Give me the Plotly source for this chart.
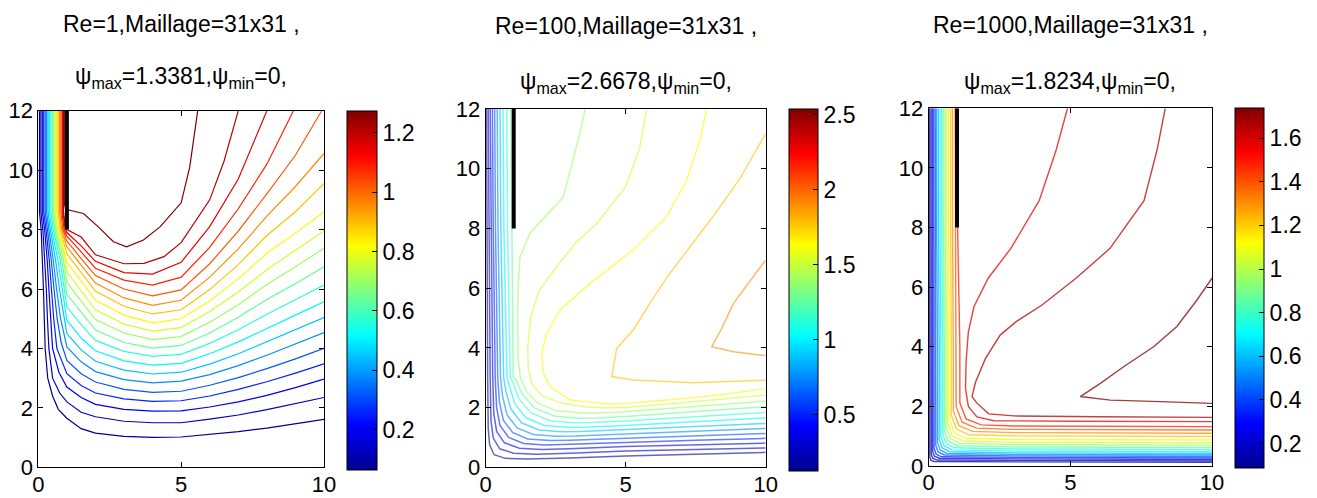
import plotly.graph_objects as go

# ---------------------------------------------------------------- data
RE = [1, 100, 1000]
MESH = "31x31"
PSI_MAX = [1.3381, 2.6678, 1.8234]
PSI_MIN = [0, 0, 0]
N_LEVELS = 20                      # contour levels k*psi_max/(N+1), k=1..N

X_TICKS = [0, 5, 10]
Y_TICKS = [0, 2, 4, 6, 8, 10, 12]
CB_TICKS = [
    [0.2, 0.4, 0.6, 0.8, 1.0, 1.2],
    [0.5, 1.0, 1.5, 2.0, 2.5],
    [0.2, 0.4, 0.6, 0.8, 1.0, 1.2, 1.4, 1.6],
]
CB_TEXT = [
    ["0.2", "0.4", "0.6", "0.8", "1", "1.2"],
    ["0.5", "1", "1.5", "2", "2.5"],
    ["0.2", "0.4", "0.6", "0.8", "1", "1.2", "1.4", "1.6"],
]

# inlet wall (thin plate) separating the jet channel
WALL_X = [1, 1]
WALL_Y = [8, 12]

# streamlines psi = k*psi_max/21 : {k: [(x, y), ...]}
RE1_LINES = {
    1: [(0.04,12),(0.04,8.6),(0.1,8),(0.15,7),(0.18,6),(0.21,5),(0.24,4),(0.33,3),(0.5,2.4),(0.7,1.95),(1,1.65),(1.5,1.3),(2,1.15),(3,1.04),(4,1.01),(5,1.02),(6,1.1),(7,1.2),(8,1.32),(9,1.46),(10,1.61)],
    2: [(0.09,12),(0.09,8.6),(0.16,8),(0.23,7),(0.28,6),(0.32,5),(0.37,4),(0.5,3),(0.75,2.5),(1,2.2),(1.5,1.85),(2,1.7),(3,1.55),(4,1.5),(5,1.5),(6,1.62),(7,1.76),(8,1.94),(9,2.14),(10,2.35)],
    3: [(0.14,12),(0.14,8.6),(0.22,8),(0.31,7),(0.37,6),(0.43,5),(0.5,4),(0.72,3.2),(1,2.7),(1.5,2.35),(2,2.12),(3,1.95),(4,1.89),(5,1.9),(6,2.03),(7,2.2),(8,2.42),(9,2.68),(10,2.97)],
    4: [(0.19,12),(0.19,8.6),(0.27,8),(0.38,7),(0.46,6),(0.54,5),(0.65,4),(1,3.15),(1.5,2.75),(2,2.5),(3,2.3),(4,2.22),(5,2.24),(6,2.4),(7,2.62),(8,2.88),(9,3.17),(10,3.48)],
    5: [(0.24,12),(0.24,8.6),(0.32,8),(0.45,7),(0.55,6),(0.66,5),(0.8,4.2),(1,3.6),(1.5,3.15),(2,2.87),(3,2.62),(4,2.52),(5,2.56),(6,2.76),(7,3.02),(8,3.32),(9,3.65),(10,4.0)],
    6: [(0.29,12),(0.29,8.6),(0.37,8),(0.52,7),(0.64,6),(0.78,5),(1,4.05),(1.5,3.55),(2,3.22),(3,2.95),(4,2.84),(5,2.9),(6,3.12),(7,3.42),(8,3.77),(9,4.14),(10,4.53)],
    7: [(0.34,12),(0.34,8.6),(0.42,8),(0.6,7),(0.74,6),(0.9,5),(1,4.5),(1.5,3.95),(2,3.57),(3,3.27),(4,3.14),(5,3.2),(6,3.47),(7,3.82),(8,4.22),(9,4.62),(10,5.04)],
    8: [(0.39,12),(0.39,8.6),(0.47,8),(0.68,7),(0.84,6),(1,4.95),(1.5,4.35),(2,3.92),(3,3.58),(4,3.44),(5,3.5),(6,3.82),(7,4.22),(8,4.68),(9,5.12),(10,5.57)],
    9: [(0.44,12),(0.44,8.6),(0.52,8),(0.76,7),(1,5.4),(1.5,4.8),(2,4.27),(3,3.9),(4,3.73),(5,3.8),(6,4.17),(7,4.63),(8,5.15),(9,5.63),(10,6.13)],
    10: [(0.49,12),(0.49,8.6),(0.57,8),(0.82,7),(1,5.82),(1.5,5.2),(2,4.62),(3,4.2),(4,4.01),(5,4.1),(6,4.52),(7,5.05),(8,5.65),(9,6.18),(10,6.75)],
    11: [(0.54,12),(0.54,8.6),(0.62,8),(0.88,7),(1,6.22),(1.5,5.6),(2,4.97),(3,4.52),(4,4.3),(5,4.4),(6,4.88),(7,5.47),(8,6.15),(9,6.75),(10,7.37)],
    12: [(0.59,12),(0.59,8.6),(0.67,8),(0.95,7),(1,6.58),(1.5,5.95),(2,5.3),(3,4.82),(4,4.58),(5,4.7),(6,5.24),(7,5.9),(8,6.65),(9,7.3),(10,7.95)],
    13: [(0.64,12),(0.64,8.6),(0.72,8),(1,6.9),(1.5,6.27),(2,5.62),(3,5.12),(4,4.86),(5,5.0),(6,5.6),(7,6.35),(8,7.2),(9,7.88),(10,8.59)],
    14: [(0.69,12),(0.69,8.6),(0.77,8),(1,7.18),(1.5,6.55),(2,5.93),(3,5.42),(4,5.16),(5,5.3),(6,5.98),(7,6.82),(8,7.8),(9,8.6),(10,9.55)],
    15: [(0.74,12),(0.74,8.6),(0.82,8),(1,7.42),(1.5,6.8),(2,6.2),(3,5.7),(4,5.45),(5,5.62),(6,6.4),(7,7.35),(8,8.45),(9,9.45),(10,10.56)],
    16: [(0.79,12),(0.79,8.6),(0.86,8),(1,7.62),(1.5,7.02),(2,6.45),(3,6.0),(4,5.77),(5,5.97),(6,6.85),(7,7.95),(8,9.2),(9,10.5),(9.92,12)],
    17: [(0.83,12),(0.83,8.6),(0.9,8),(1,7.78),(1.5,7.25),(2,6.7),(3,6.3),(4,6.13),(5,6.4),(6,7.4),(7,8.7),(8,10.2),(8.93,12)],
    18: [(0.86,12),(0.86,8.6),(0.93,8.05),(1,7.9),(1.5,7.45),(2,6.93),(3,6.55),(4,6.5),(5,6.9),(6,8.1),(7,9.7),(8,12)],
    19: [(0.88,12),(0.88,8.6),(0.95,8.1),(1,8.0),(1.5,7.75),(2,7.15),(3,6.85),(3.7,6.86),(4.4,7.09),(5,7.56),(6,9.0),(6.5,10.3),(7,12)],
    20: [(0.91,12),(0.91,8.9),(0.96,8.68),(1.58,8.54),(2.1,8.09),(2.63,7.59),(3.09,7.42),(3.68,7.65),(4.26,8.09),(5,8.9),(5.3,10.1),(5.58,12)],
}

RE100_LINES = {
    1: [(0.03,12),(0.04,8),(0.07,3),(0.09,1.3),(0.14,0.75),(0.3,0.42),(0.7,0.3),(1.5,0.28),(3,0.31),(5,0.38),(7.5,0.44),(10,0.5)],
    2: [(0.09,12),(0.11,8),(0.16,3),(0.19,1.55),(0.27,0.98),(0.5,0.62),(1.0,0.47),(1.8,0.44),(3,0.47),(5,0.55),(7.5,0.6),(10,0.65)],
    3: [(0.16,12),(0.19,8),(0.25,3),(0.29,1.8),(0.39,1.2),(0.67,0.82),(1.2,0.64),(2,0.6),(3,0.62),(5,0.7),(7.5,0.76),(10,0.81)],
    4: [(0.24,12),(0.27,8),(0.34,3),(0.39,2.0),(0.51,1.4),(0.82,1.0),(1.35,0.8),(2.1,0.75),(3,0.77),(5,0.84),(7.5,0.91),(10,0.97)],
    5: [(0.32,12),(0.35,8),(0.43,3),(0.49,2.2),(0.63,1.58),(0.97,1.16),(1.5,0.95),(2.3,0.9),(3,0.91),(5,0.98),(7.5,1.06),(10,1.13)],
    6: [(0.41,12),(0.44,8),(0.53,3),(0.6,2.38),(0.76,1.76),(1.12,1.32),(1.7,1.1),(2.5,1.04),(3.2,1.05),(5,1.12),(7.5,1.21),(10,1.3)],
    7: [(0.51,12),(0.54,8),(0.64,3),(0.72,2.55),(0.9,1.95),(1.28,1.49),(1.9,1.25),(2.7,1.19),(3.4,1.2),(5,1.26),(7.5,1.37),(10,1.47)],
    8: [(0.62,12),(0.65,8),(0.76,3),(0.85,2.7),(1.04,2.12),(1.45,1.65),(2.1,1.4),(2.9,1.34),(3.6,1.35),(5,1.4),(7.5,1.53),(10,1.65)],
    9: [(0.75,12),(0.78,8),(0.88,3),(0.97,2.85),(1.18,2.3),(1.62,1.82),(2.3,1.56),(3.1,1.49),(3.8,1.5),(5,1.55),(7.5,1.69),(10,1.84)],
    10: [(0.9,12),(0.93,8),(0.98,3),(1.08,2.95),(1.3,2.45),(1.75,1.98),(2.45,1.72),(3.3,1.64),(4,1.65),(5,1.7),(7.5,1.86),(10,2.03)],
    11: [(3.55,12),(3.37,11.2),(2.77,9.05),(1.58,7.84),(1.23,7.06),(1.16,6.16),(1.14,5.0),(1.16,3.6),(1.24,3.0),(1.45,2.55),(1.85,2.15),(2.5,1.9),(3.4,1.82),(4,1.82),(5,1.86),(7.5,2.03),(10,2.22)],
    12: [(5.75,12),(5.5,10.7),(5.0,9.4),(4.0,8.2),(3.2,7.5),(2.6,6.8),(1.9,5.9),(1.6,5.0),(1.5,4.0),(1.52,3.3),(1.65,2.8),(2.0,2.4),(2.7,2.15),(3.6,2.02),(4.3,1.99),(5,2.0),(7.5,2.2),(10,2.42)],
    13: [(7.89,12),(7.65,10.96),(7.18,9.62),(6.46,8.39),(5.27,7.28),(3.73,6.16),(2.65,5.27),(2.18,4.49),(2.0,3.82),(2.06,3.15),(2.3,2.7),(3.01,2.25),(4.32,2.12),(5,2.14),(7,2.3),(8.5,2.45),(10,2.64)],
    14: [(10,11.18),(9.1,9.7),(8.2,8.5),(7.3,7.4),(6.5,6.4),(5.8,5.4),(5.27,4.6),(4.68,3.98),(4.62,3.7),(4.5,3.04),(5.27,2.92),(7.42,2.83),(10,2.92)],
    15: [(10,6.94),(9.4,6.2),(8.85,5.49),(8.4,4.6),(8.07,4.04),(8.85,3.87),(10,3.74)],
}

RE1000_LINES = {
    1: [(0.03,12),(0.03,8),(0.04,4),(0.04,0.3),(0.08,0.19),(0.2,0.15),(3,0.14),(6,0.13),(10,0.12)],
    2: [(0.08,12),(0.08,8),(0.09,4),(0.09,0.4),(0.14,0.26),(0.3,0.2),(3,0.19),(6,0.18),(10,0.17)],
    3: [(0.13,12),(0.13,8),(0.14,4),(0.14,0.5),(0.2,0.33),(0.38,0.26),(3,0.24),(6,0.23),(10,0.22)],
    4: [(0.18,12),(0.18,8),(0.19,4),(0.19,0.6),(0.26,0.4),(0.45,0.31),(3,0.29),(6,0.28),(10,0.27)],
    5: [(0.23,12),(0.23,8),(0.25,4),(0.25,0.7),(0.33,0.47),(0.55,0.37),(3,0.34),(6,0.33),(10,0.32)],
    6: [(0.28,12),(0.28,8),(0.31,4),(0.31,0.8),(0.4,0.54),(0.64,0.42),(3,0.39),(6,0.38),(10,0.37)],
    7: [(0.34,12),(0.34,8),(0.37,4),(0.37,0.9),(0.47,0.61),(0.73,0.48),(3,0.44),(6,0.43),(10,0.42)],
    8: [(0.4,12),(0.4,8),(0.43,4),(0.43,1.0),(0.54,0.68),(0.82,0.54),(3,0.5),(6,0.49),(10,0.48)],
    9: [(0.46,12),(0.46,8),(0.49,4),(0.49,1.1),(0.61,0.76),(0.91,0.61),(3,0.57),(6,0.56),(10,0.55)],
    10: [(0.52,12),(0.52,8),(0.55,4),(0.55,1.2),(0.68,0.84),(1.0,0.68),(3,0.64),(6,0.63),(10,0.62)],
    11: [(0.58,12),(0.58,8),(0.61,4),(0.61,1.32),(0.75,0.93),(1.1,0.76),(3,0.72),(6,0.71),(10,0.7)],
    12: [(0.64,12),(0.64,8),(0.67,4),(0.67,1.44),(0.82,1.02),(1.2,0.84),(3,0.8),(6,0.79),(10,0.78)],
    13: [(0.7,12),(0.7,8),(0.73,4),(0.73,1.56),(0.9,1.12),(1.3,0.93),(3,0.89),(6,0.88),(10,0.87)],
    14: [(0.77,12),(0.77,8),(0.8,4),(0.8,1.7),(0.98,1.24),(1.42,1.05),(3,1.01),(6,1.0),(10,0.99)],
    15: [(0.84,12),(0.84,8),(0.87,4),(0.87,1.84),(1.07,1.35),(1.55,1.16),(3,1.12),(6,1.11),(10,1.1)],
    16: [(0.93,12),(0.95,8),(0.97,4),(0.97,1.98),(1.18,1.47),(1.68,1.27),(3,1.23),(6,1.22),(10,1.21)],
    17: [(1.0,12),(1.02,8),(1.1,4),(1.1,2.12),(1.32,1.58),(1.85,1.38),(3,1.34),(6,1.33),(10,1.32)],
    18: [(4.9,12),(4.5,10.6),(3.9,8.9),(2.9,7.3),(2.1,6.3),(1.6,5.35),(1.4,4.5),(1.32,3.5),(1.3,2.6),(1.4,2.0),(1.7,1.65),(2.3,1.52),(5,1.5),(10,1.49)],
    19: [(8.35,12),(8.06,10.6),(7.6,8.9),(6.4,7.3),(5.2,6.3),(4.0,5.4),(3.1,4.85),(2.53,4.4),(2.0,3.6),(1.65,2.8),(1.53,2.33),(1.71,2.1),(2.12,1.75),(3,1.68),(6,1.65),(10,1.63)],
    20: [(10,6.3),(9.47,5.57),(8.76,4.68),(7.94,4.0),(6.88,3.33),(6.06,2.77),(5.35,2.33),(6.41,2.21),(8.18,2.16),(10,2.1)],
}

ALL_LINES = [RE1_LINES, RE100_LINES, RE1000_LINES]

# ---------------------------------------------------------------- layout
W, H = 1317, 498
FONT = "Arial, Liberation Sans, Helvetica, sans-serif"

# pixel boxes: axes (left, right, top, bottom) and colour bar
AX_BOX = [(38.3, 324.0, 110.7, 467.3), (485.7, 765.7, 109.0, 467.3), (928.7, 1212.0, 108.3, 466.0)]
CB_BOX = [(347.0, 377.0, 110.7, 470.0), (789.3, 818.3, 109.0, 470.7), (1235.3, 1264.3, 108.3, 468.3)]
TITLE_Y = [(24, 77), (26, 82), (25, 83)]
LINE_STYLE = [dict(width=1.2, opacity=1.0), dict(width=1.5, opacity=0.6), dict(width=1.4, opacity=0.75)]

# MATLAB-style jet colormap
JET = [(0.0, (0, 0, 143)), (0.125, (0, 0, 255)), (0.375, (0, 255, 255)),
       (0.625, (255, 255, 0)), (0.875, (255, 0, 0)), (1.0, (128, 0, 0))]
JET_SCALE = [[t, "rgb(%d,%d,%d)" % c] for t, c in JET]


def jet(t):
    t = min(max(t, 0.0), 1.0)
    for (t0, c0), (t1, c1) in zip(JET[:-1], JET[1:]):
        if t <= t1:
            f = (t - t0) / (t1 - t0)
            return "rgb(%d,%d,%d)" % tuple(round(a + f * (b - a)) for a, b in zip(c0, c1))
    return "rgb(%d,%d,%d)" % JET[-1][1]


fig = go.Figure()
layout = dict(
    width=W, height=H, margin=dict(l=0, r=0, t=0, b=0, autoexpand=False),
    paper_bgcolor="white", plot_bgcolor="white", showlegend=False,
    font=dict(family=FONT, size=22, color="black"),
)
annotations = []

for i in range(3):
    sfx = "" if i == 0 else str(i + 1)
    xa, ya = "x" + sfx, "y" + sfx
    l, r, t, b = AX_BOX[i]
    step = PSI_MAX[i] / (N_LEVELS + 1)
    lo, hi = step, N_LEVELS * step

    axis_common = dict(
        showgrid=False, zeroline=False, showline=True, linecolor="black", linewidth=1,
        mirror="ticks", ticks="inside", ticklen=5, tickcolor="black",
        tickfont=dict(family=FONT, size=22, color="black"), fixedrange=True,
    )
    layout["xaxis" + sfx] = dict(axis_common, domain=[l / W, r / W], range=[0, 10],
                                 tickvals=X_TICKS, anchor=ya, ticklabelstandoff=-3)
    layout["yaxis" + sfx] = dict(axis_common, domain=[1 - b / H, 1 - t / H], range=[0, 12],
                                 tickvals=Y_TICKS, anchor=xa)

    # streamlines
    for k, pts in ALL_LINES[i].items():
        level = k * step
        fig.add_trace(go.Scatter(
            x=[p[0] for p in pts], y=[p[1] for p in pts], mode="lines",
            line=dict(color=jet((level - lo) / (hi - lo)), width=LINE_STYLE[i]["width"]),
            opacity=LINE_STYLE[i]["opacity"], hoverinfo="skip", xaxis=xa, yaxis=ya,
        ))

    # inlet wall
    fig.add_trace(go.Scatter(x=WALL_X, y=WALL_Y, mode="lines",
                             line=dict(color="black", width=4), hoverinfo="skip",
                             xaxis=xa, yaxis=ya))

    # colour bar carrier
    cl, cr, ct, cbm = CB_BOX[i]
    fig.add_trace(go.Scatter(
        x=[None], y=[None], mode="markers", xaxis=xa, yaxis=ya, hoverinfo="skip",
        marker=dict(color=[lo, hi], cmin=lo, cmax=hi, colorscale=JET_SCALE, showscale=True,
                    colorbar=dict(
                        x=cl / W, xanchor="left", xpad=0, ypad=0,
                        y=1 - (ct + cbm) / 2 / H, yanchor="middle",
                        len=(cbm - ct) / H, lenmode="fraction",
                        thickness=cr - cl, thicknessmode="pixels",
                        outlinewidth=1, outlinecolor="black",
                        ticks="inside", ticklen=5, tickcolor="black",
                        tickvals=CB_TICKS[i], ticktext=CB_TEXT[i],
                        tickfont=dict(family=FONT, size=23, color="black"),
                    )),
    ))

    cx = (l + r) / 2 / W
    y1, y2 = TITLE_Y[i]
    annotations.append(dict(
        text="Re=%d,Maillage=%s ," % (RE[i], MESH), xref="paper", yref="paper",
        x=cx, y=1 - y1 / H, xanchor="center", yanchor="middle", showarrow=False,
        font=dict(family=FONT, size=23, color="black"),
    ))
    annotations.append(dict(
        text="ψ<sub>max</sub>=%.4f,ψ<sub>min</sub>=%d," % (PSI_MAX[i], PSI_MIN[i]),
        xref="paper", yref="paper",
        x=cx, y=1 - y2 / H, xanchor="center", yanchor="middle", showarrow=False,
        font=dict(family=FONT, size=23, color="black"),
    ))

layout["annotations"] = annotations
fig.update_layout(**layout)
fig.write_html("out.html")
